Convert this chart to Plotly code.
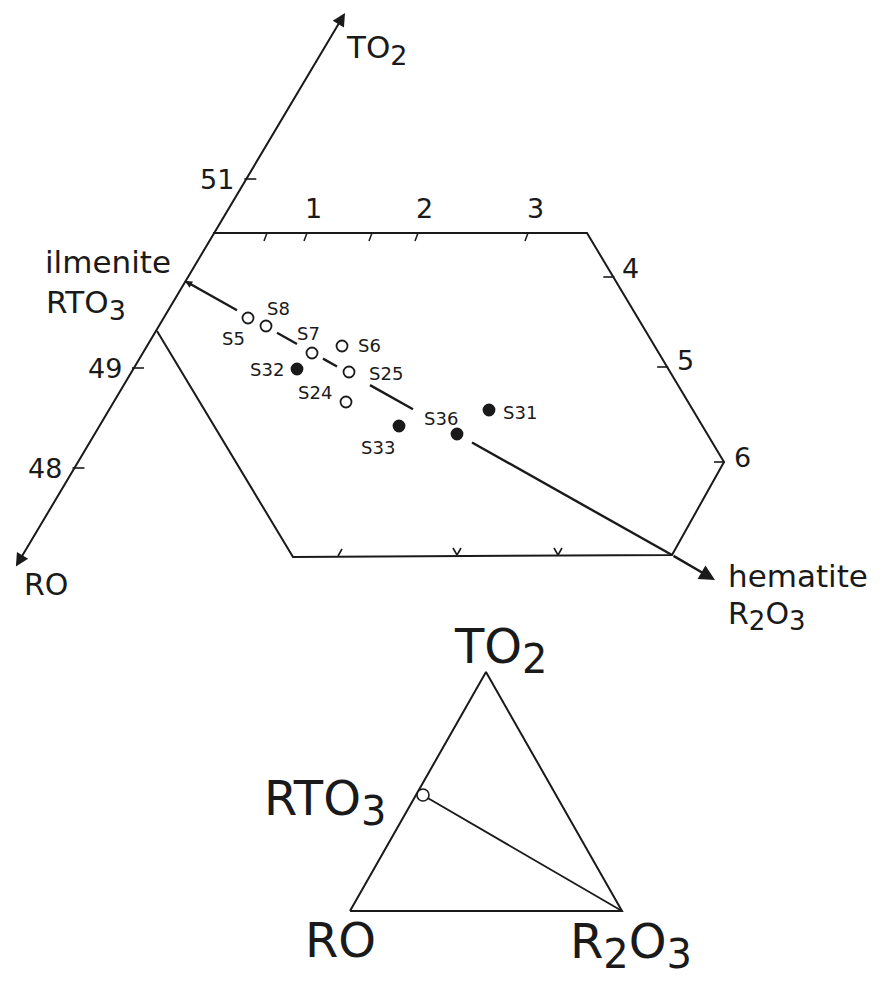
import plotly.graph_objects as go

FONT = "DejaVu Sans, Liberation Sans, sans-serif"
INK = "#1a1a1a"

# TiO2 axis (RO -> TO2) with numbered ticks
axis_start = (15, 568)
axis_end = (345, 13)
axis_tick_labels = ["51", "49", "48"]
axis_tick_y = [179, 368, 468]

# hexagonal field (left side lies on the TiO2 axis)
hex_x = [213, 587, 724, 672, 293, 157]
hex_y = [233, 233, 462, 555, 557, 331]

top_tick_x = [267, 307, 372, 418, 528]
top_labels = ["1", "2", "3"]
top_label_x = [313, 424, 535]

right_tick_y = [277, 367, 462]
right_labels = ["4", "5", "6"]
right_label_y = [268, 360, 457]

bottom_tick_x = [340, 457, 558]

# ilmenite - hematite join
ilmenite_pt = (185, 281)
hematite_pt = (672, 555)
hematite_tip = (715, 580)
join_segments_x = [(185, 237), (277, 297), (323, 337), (370, 413), (472, 672)]

# samples
sample_names = ["S5", "S8", "S7", "S6", "S25", "S24", "S32", "S33", "S36", "S31"]
sample_x = [248, 266, 312, 342, 349, 346, 297, 399, 457, 489]
sample_y = [318, 326, 353, 346, 372, 402, 369, 426, 434, 410]
sample_filled = [False, False, False, False, False, False, True, True, True, True]
label_x = [233, 278, 308, 369, 386, 315, 267, 378, 441, 520]
label_y = [338, 308, 333, 345, 373, 392, 369, 447, 418, 412]

# inset triangle RO - TO2 - R2O3
tri_x = [350, 486, 622, 350]
tri_y = [911, 672, 911, 911]
inset_rto3 = (423, 795)

# the page puts the figure 8 px in from the top left corner
PAGE_OFFSET = 8


def on_axis_x(y):
    (x0, y0), (x1, y1) = axis_start, axis_end
    return x0 + (y - y0) * (x1 - x0) / (y1 - y0)


def on_join_y(x):
    (x0, y0), (x1, y1) = ilmenite_pt, hematite_pt
    return y0 + (x - x0) * (y1 - y0) / (x1 - x0)


def on_right_edge_x(y):
    x0, y0, x1, y1 = hex_x[1], hex_y[1], hex_x[2], hex_y[2]
    return x0 + (y - y0) * (x1 - x0) / (y1 - y0)


def line(xs, ys, width=2):
    return go.Scatter(x=xs, y=ys, mode="lines", line=dict(color=INK, width=width),
                      hoverinfo="skip", showlegend=False)


def sub(s, size):
    return f"<sub><span style='font-size:{size}px'>{s}</span></sub>"


fig = go.Figure()

fig.add_trace(line(hex_x, hex_y))

# tick marks
tx, ty = [], []
for y in axis_tick_y:
    x = on_axis_x(y)
    tx += [x - 2, x + 10, None]
    ty += [y, y, None]
for x in top_tick_x:
    tx += [x, x - 3, None]
    ty += [233, 241, None]
for y in right_tick_y:
    x = on_right_edge_x(y)
    tx += [x - 10, x + 1, None]
    ty += [y, y, None]
for i, x in enumerate(bottom_tick_x):
    if i == 0:
        tx += [x - 2, x + 2, None]
        ty += [556, 549, None]
    else:
        tx += [x - 4, x, x + 4, None]
        ty += [548, 555, 548, None]
fig.add_trace(line(tx, ty, 1.6))

# ilmenite - hematite join, broken around the labels
jx, jy = [], []
for a, b in join_segments_x:
    jx += [a, b, None]
    jy += [on_join_y(a), on_join_y(b), None]
fig.add_trace(line(jx, jy, 2.4))

# samples
for filled in (False, True):
    idx = [i for i, f in enumerate(sample_filled) if f == filled]
    fig.add_trace(go.Scatter(
        x=[sample_x[i] for i in idx], y=[sample_y[i] for i in idx], mode="markers",
        marker=dict(size=11, color=INK if filled else "white",
                    symbol="circle", line=dict(color=INK, width=1.8)),
        hoverinfo="skip", showlegend=False))

# inset triangle
fig.add_trace(line(tri_x, tri_y, 2))
fig.add_trace(line([inset_rto3[0] + 3, tri_x[2]], [inset_rto3[1] + 2, tri_y[2]], 1.8))
fig.add_trace(go.Scatter(
    x=[inset_rto3[0]], y=[inset_rto3[1]], mode="markers",
    marker=dict(size=12, color="white", line=dict(color=INK, width=1.6)),
    hoverinfo="skip", showlegend=False))

annotations = []

# arrows
annotations.append(dict(x=axis_end[0], y=axis_end[1], ax=axis_start[0], ay=axis_start[1],
                        xref="x", yref="y", axref="x", ayref="y", text="", showarrow=True,
                        arrowhead=2, arrowside="end+start", arrowsize=1.3, arrowwidth=2,
                        arrowcolor=INK, standoff=0, startstandoff=0))
annotations.append(dict(x=hematite_tip[0], y=hematite_tip[1], ax=hematite_pt[0], ay=hematite_pt[1],
                        xref="x", yref="y", axref="x", ayref="y", text="", showarrow=True,
                        arrowhead=2, arrowsize=1.3, arrowwidth=2.4, arrowcolor=INK))
annotations.append(dict(x=ilmenite_pt[0], y=ilmenite_pt[1], ax=ilmenite_pt[0] + 16,
                        ay=on_join_y(ilmenite_pt[0] + 16),
                        xref="x", yref="y", axref="x", ayref="y", text="", showarrow=True,
                        arrowhead=2, arrowsize=0.9, arrowwidth=1.6, arrowcolor=INK))


def label(text, x, y, size, xanchor="center", yanchor="middle"):
    annotations.append(dict(x=x, y=y, xref="x", yref="y", text=text, showarrow=False,
                            xanchor=xanchor, yanchor=yanchor,
                            font=dict(family=FONT, size=size, color=INK)))


for name, x, y in zip(sample_names, label_x, label_y):
    label(name, x, y, 18)

for t, y in zip(axis_tick_labels, axis_tick_y):
    label(t, on_axis_x(y) - 10, y, 27, xanchor="right")
for t, x in zip(top_labels, top_label_x):
    label(t, x, 208, 27)
for t, y in zip(right_labels, right_label_y):
    label(t, on_right_edge_x(y) + 12 if t != "6" else hex_x[2] + 8, y, 27, xanchor="left")

label("TO" + sub("2", 27), 344, 50, 31, xanchor="left")
label("ilmenite", 43, 262, 31, xanchor="left")
label("RTO" + sub("3", 27), 44, 305, 31, xanchor="left")
label("RO", 22, 584, 30, xanchor="left")
label("hematite", 726, 576, 31, xanchor="left")
label("R" + sub("2", 26) + "O" + sub("3", 26), 726, 616, 30, xanchor="left")

label("TO" + sub("2", 40), 452, 650, 48, xanchor="left")
label("RTO" + sub("3", 40), 262, 802, 48, xanchor="left")
label("RO", 303, 940, 48, xanchor="left")
label("R" + sub("2", 40) + "O" + sub("3", 40), 568, 945, 48, xanchor="left")

fig.update_layout(
    width=889 - PAGE_OFFSET, height=988 - PAGE_OFFSET,
    margin=dict(l=0, r=0, t=0, b=0),
    paper_bgcolor="white", plot_bgcolor="white",
    xaxis=dict(range=[PAGE_OFFSET, 889], visible=False, fixedrange=True),
    yaxis=dict(range=[988, PAGE_OFFSET], visible=False, fixedrange=True),
    annotations=annotations,
    showlegend=False,
)

fig.write_html("out.html")
